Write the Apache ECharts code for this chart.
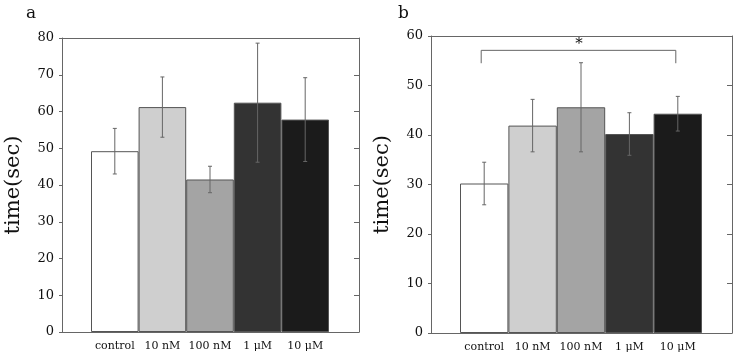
<!DOCTYPE html>
<html>
<head>
<meta charset="utf-8">
<script src="https://cdn.jsdelivr.net/npm/echarts@6/dist/echarts.min.js"></script>
<style>
  html, body { margin: 0; padding: 0; background: #fff; }
  #chart { width: 734px; height: 357px; }
</style>
</head>
<body>
<div id="chart"></div>
<script>
  // data
  const categories = ['control', '10 nM', '100 nM', '1 μM', '10 μM']
  const meanA = [49.2, 61.2, 41.5, 62.4, 57.8]
  const errA = [6.2, 8.2, 3.6, 16.2, 11.4]
  const meanB = [30.2, 41.9, 45.6, 40.2, 44.3]
  const errB = [4.3, 5.3, 9.0, 4.3, 3.5]
  const barColors = ['#ffffff', '#cfcfcf', '#a4a4a4', '#333333', '#1b1b1b']
  // significance bracket in panel b: from / to category index, foot / top value
  const bracketX = [0, 4]
  const bracketY = [54.5, 57.1]

  const font = 'DejaVu Serif'
  const lineColor = '#666'

  const chart = echarts.init(document.getElementById('chart'))

  function frameAxes(grid, max) {
    const line = {show: true, onZero: false, lineStyle: {color: lineColor}}
    const x = [
      {gridIndex: grid, type: 'value', min: 0, max: 1, position: 'bottom',
        axisLine: line, axisTick: {show: false},
        axisLabel: {show: false}, splitLine: {show: false}},
      {gridIndex: grid, type: 'value', min: 0, max: 1, position: 'top',
        axisLine: line, axisTick: {show: false},
        axisLabel: {show: false}, splitLine: {show: false}}
    ]
    const y = [
      {gridIndex: grid, type: 'value', min: 0, max: max, interval: 10, position: 'left',
        name: 'time(sec)', nameLocation: 'middle', nameGap: 38, nameRotate: 90,
        nameTextStyle: {fontFamily: font, fontSize: 21, color: '#111'},
        axisLine: line,
        axisTick: {show: true, length: 3, lineStyle: {color: lineColor}},
        axisLabel: {fontFamily: font, fontSize: 13, color: '#111', margin: 8},
        splitLine: {show: false}},
      {gridIndex: grid, type: 'value', min: 0, max: max, interval: 10, position: 'right',
        axisLine: line,
        axisTick: {show: true, inside: true, length: 5, lineStyle: {color: lineColor}},
        axisLabel: {show: false}, splitLine: {show: false}}
    ]
    return {x, y}
  }

  function barAxes(grid, max) {
    return {
      x: {gridIndex: grid, type: 'category', data: categories,
        axisLine: {show: false}, axisTick: {show: false},
        axisLabel: {interval: 0, fontFamily: font, fontSize: 11, color: '#111', margin: 9}},
      y: {gridIndex: grid, type: 'value', min: 0, max: max, show: false}
    }
  }

  function barSeries(xi, yi, means) {
    return {
      type: 'bar', xAxisIndex: xi, yAxisIndex: yi, z: 2,
      barCategoryGap: '0%',
      data: means.map((v, i) => ({
        value: v,
        itemStyle: {color: barColors[i], borderColor: '#555', borderWidth: 1}
      }))
    }
  }

  function errSeries(xi, yi, means, errs) {
    return {
      type: 'custom', xAxisIndex: xi, yAxisIndex: yi, z: 5,
      encode: {x: 0, y: [1, 2]},
      data: means.map((m, i) => [i, m - errs[i], m + errs[i]]),
      renderItem: function (params, api) {
        const lo = api.coord([api.value(0), api.value(1)])
        const hi = api.coord([api.value(0), api.value(2)])
        const style = {stroke: '#666', lineWidth: 1}
        const c = 2
        return {
          type: 'group',
          children: [
            {type: 'line', shape: {x1: lo[0], y1: lo[1], x2: hi[0], y2: hi[1]}, style},
            {type: 'line', shape: {x1: lo[0] - c, y1: lo[1], x2: lo[0] + c, y2: lo[1]}, style},
            {type: 'line', shape: {x1: hi[0] - c, y1: hi[1], x2: hi[0] + c, y2: hi[1]}, style}
          ]
        }
      }
    }
  }

  const fa = frameAxes(0, 80)
  const ba = barAxes(1, 80)
  const fb = frameAxes(2, 60)
  const bb = barAxes(3, 60)

  const option = {
    animation: false,
    title: [
      {text: 'a', left: 21, top: 0, textStyle: {fontFamily: font, fontSize: 17, fontWeight: 'normal', color: '#111'}},
      {text: 'b', left: 393, top: 0, textStyle: {fontFamily: font, fontSize: 17, fontWeight: 'normal', color: '#111'}}
    ],
    grid: [
      {left: 62, top: 38, width: 297, height: 294},
      {left: 91, top: 38, width: 238, height: 294},
      {left: 431, top: 36, width: 301, height: 297},
      {left: 460, top: 36, width: 242, height: 297}
    ],
    xAxis: [fa.x[0], fa.x[1], ba.x, fb.x[0], fb.x[1], bb.x],
    yAxis: [fa.y[0], fa.y[1], ba.y, fb.y[0], fb.y[1], bb.y],
    series: [
      barSeries(2, 2, meanA),
      errSeries(2, 2, meanA, errA),
      barSeries(5, 5, meanB),
      errSeries(5, 5, meanB, errB),
      {
        type: 'custom', xAxisIndex: 5, yAxisIndex: 5, z: 5,
        encode: {x: [0, 1], y: [2, 3]},
        data: [[bracketX[0], bracketX[1], bracketY[0], bracketY[1]]],
        renderItem: function (params, api) {
          const a = api.coord([api.value(0), api.value(2)])
          const b = api.coord([api.value(0), api.value(3)])
          const c = api.coord([api.value(1), api.value(3)])
          const d = api.coord([api.value(1), api.value(2)])
          return {
            type: 'group',
            children: [
              {type: 'polyline', shape: {points: [[a[0] - 3, a[1]], [b[0] - 3, b[1]], [c[0] - 2, c[1]], [d[0] - 2, d[1]]]},
                style: {stroke: lineColor, lineWidth: 1, fill: null}},
              {type: 'text', x: (b[0] + c[0]) / 2 - 2, y: b[1] - 6,
                style: {text: '*', fontFamily: font, fontSize: 15, fill: '#111', align: 'center', verticalAlign: 'middle'}}
            ]
          }
        }
      }
    ]
  }

  chart.setOption(option)
</script>
</body>
</html>
